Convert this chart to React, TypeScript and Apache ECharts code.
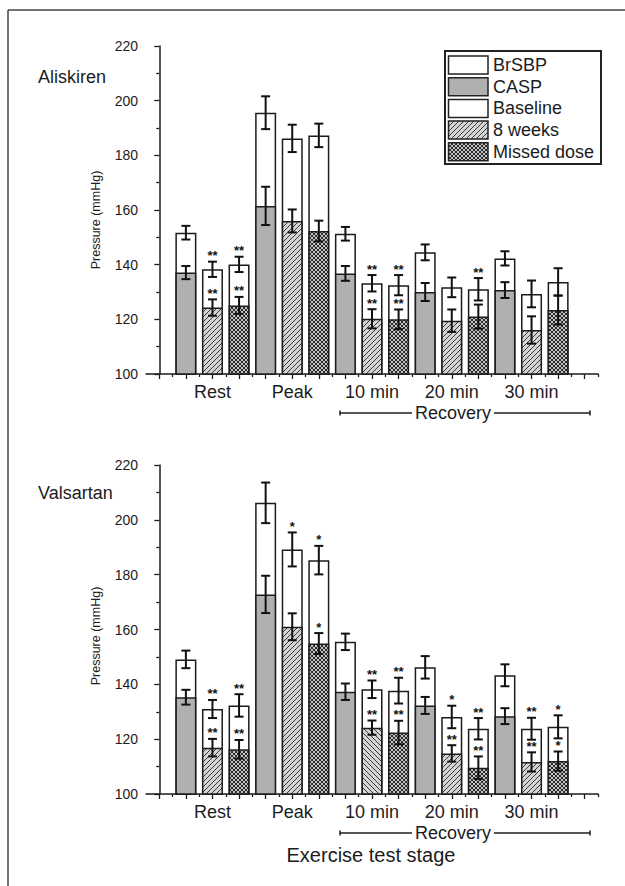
import React, { useEffect, useRef } from "react";
import * as echarts from "echarts";

const stages = ["Rest", "Peak", "10 min", "20 min", "30 min"];
const groups = ["Baseline", "8 weeks", "Missed dose"];
const yTicks = { min: 100, max: 220, step: 20 };

// Aliskiren (values in mmHg, ordered stage by stage: Baseline, 8 weeks, Missed dose)
const aliBrSBP = [151.7, 138.3, 140.1, 195.6, 186.2, 187.3, 151.3, 133.2, 132.5, 144.5, 131.7, 131.0, 142.3, 129.3, 133.7];
const aliBrSBPErr = [2.5, 2.8, 2.8, 6.0, 5.0, 4.3, 2.5, 3.0, 3.7, 2.9, 3.6, 4.1, 2.6, 4.9, 5.0];
const aliCASP = [137.1, 124.3, 125.1, 161.5, 156.0, 152.3, 136.8, 120.2, 120.0, 130.0, 119.5, 121.0, 130.7, 116.1, 123.4];
const aliCASPErr = [2.4, 3.0, 3.1, 7.0, 4.2, 3.8, 2.7, 3.5, 3.6, 3.3, 4.1, 4.4, 2.9, 5.0, 5.3];
const aliBrSBPSig = ["", "**", "**", "", "", "", "", "**", "**", "", "", "**", "", "", ""];
const aliCASPSig = ["", "**", "**", "", "", "", "", "**", "**", "", "", "", "", "", ""];

// Valsartan
const valBrSBP = [149.1, 131.0, 132.3, 206.2, 189.2, 185.3, 155.5, 138.2, 137.7, 146.2, 128.1, 123.8, 143.3, 123.8, 124.5];
const valBrSBPErr = [3.2, 3.3, 4.1, 7.4, 6.2, 5.2, 3.0, 3.2, 4.7, 4.1, 4.1, 3.9, 4.0, 4.0, 4.2];
const valCASP = [135.3, 116.9, 116.3, 172.8, 161.0, 154.9, 137.3, 124.2, 122.4, 132.3, 114.8, 109.6, 128.4, 111.7, 112.0];
const valCASPErr = [2.7, 3.2, 3.4, 6.8, 4.9, 3.8, 3.0, 2.6, 4.3, 3.1, 3.0, 4.1, 2.9, 3.5, 3.5];
const valBrSBPSig = ["", "**", "**", "", "*", "*", "", "**", "**", "", "*", "**", "", "**", "*"];
const valCASPSig = ["", "**", "**", "", "", "*", "", "**", "**", "", "**", "**", "", "**", "*"];

const FONT = "'Liberation Sans', Arial, Helvetica, sans-serif";
const INK = "#1c1c1c";
const GRAY = "#b0b0b0";

function makePattern(kind: "fwd" | "back" | "cross") {
  const s = kind === "cross" ? 4 : 5;
  const c = document.createElement("canvas");
  c.width = s;
  c.height = s;
  const g = c.getContext("2d")!;
  g.fillStyle = kind === "cross" ? "#c4c4c4" : "#d4d4d4";
  g.fillRect(0, 0, s, s);
  g.strokeStyle = kind === "cross" ? "#2a2a2a" : "#3a3a3a";
  g.lineWidth = 1;
  const fwd = () => {
    for (let k = -1; k <= 1; k++) {
      g.beginPath();
      g.moveTo(k * s - 1, s + 1);
      g.lineTo(k * s + s + 1, -1);
      g.stroke();
    }
  };
  const back = () => {
    for (let k = -1; k <= 1; k++) {
      g.beginPath();
      g.moveTo(k * s - 1, -1);
      g.lineTo(k * s + s + 1, s + 1);
      g.stroke();
    }
  };
  if (kind === "fwd") fwd();
  else if (kind === "back") back();
  else {
    fwd();
    back();
  }
  return { image: c, repeat: "repeat", imageWidth: s, imageHeight: s } as any;
}

export default function App() {
  const ref = useRef<HTMLDivElement>(null);

  useEffect(() => {
    if (!ref.current) return;
    const chart = echarts.init(ref.current, undefined, { renderer: "svg" });

    const fwd = makePattern("fwd");
    const back = makePattern("back");
    const cross = makePattern("cross");

    const nG = groups.length;
    const positions = aliBrSBP.map((_, k) => k + 1);
    const labelPos = stages.map((_, i) => i * nG + 2);
    const majorTicks: number[] = [];
    for (let v = 0; v <= 16; v++) majorTicks.push(v);
    const minorTicks = majorTicks.map((v) => v + 0.5);

    const grids = [
      { left: 146, top: 46, width: 452, height: 328 },
      { left: 146, top: 465, width: 452, height: 329 },
    ];

    const xAxes: any[] = [];
    const yAxes: any[] = [];
    grids.forEach((_, gi) => {
      xAxes.push({
        type: "value",
        gridIndex: gi,
        min: -0.5,
        max: 16.5,
        axisLine: { show: true, onZero: false, lineStyle: { color: INK, width: 1.5 } },
        axisTick: { show: true, length: 5, customValues: majorTicks, lineStyle: { color: INK, width: 1.3 } },
        axisLabel: {
          show: true,
          customValues: labelPos,
          formatter: (v: number) => stages[labelPos.indexOf(Math.round(v))] ?? "",
          fontSize: 18,
          lineHeight: 18,
          fontFamily: FONT,
          color: INK,
          margin: 9,
        },
        splitLine: { show: false },
      });
      xAxes.push({
        type: "value",
        gridIndex: gi,
        min: -0.5,
        max: 16.5,
        position: "bottom",
        axisLine: { show: false },
        axisTick: { show: true, length: 3, customValues: minorTicks, lineStyle: { color: INK, width: 1.3 } },
        axisLabel: { show: false },
        splitLine: { show: false },
      });
      yAxes.push({
        type: "value",
        gridIndex: gi,
        min: yTicks.min,
        max: yTicks.max,
        interval: yTicks.step,
        axisLine: { show: true, lineStyle: { color: INK, width: 1.5 } },
        axisTick: { show: true, length: 5, lineStyle: { color: INK, width: 1.3 } },
        minorTick: { show: true, splitNumber: 2, length: 3, lineStyle: { color: INK, width: 1.3 } },
        axisLabel: { fontSize: 14, fontFamily: FONT, color: INK, margin: 8 },
        splitLine: { show: false },
        minorSplitLine: { show: false },
      });
    });

    const panels = [
      { br: aliBrSBP, brE: aliBrSBPErr, ca: aliCASP, caE: aliCASPErr, brS: aliBrSBPSig, caS: aliCASPSig, backIdx: [] as number[] },
      { br: valBrSBP, brE: valBrSBPErr, ca: valCASP, caE: valCASPErr, brS: valBrSBPSig, caS: valCASPSig, backIdx: [7] },
    ];

    const series: any[] = [];
    panels.forEach((p, gi) => {
      const xi = gi * 2;
      series.push({
        type: "bar",
        name: "BrSBP",
        xAxisIndex: xi,
        yAxisIndex: gi,
        barWidth: 21,
        z: 2,
        data: positions.map((x, k) => [x, p.br[k]]),
        itemStyle: { color: "#ffffff", borderColor: INK, borderWidth: 1.5 },
      });
      series.push({
        type: "bar",
        name: "CASP",
        xAxisIndex: xi,
        yAxisIndex: gi,
        barWidth: 21,
        barGap: "-100%",
        z: 3,
        data: positions.map((x, k) => {
          const j = k % nG;
          const fill = j === 0 ? GRAY : j === 1 ? (p.backIdx.includes(k) ? back : fwd) : cross;
          return { value: [x, p.ca[k]], itemStyle: { color: fill } };
        }),
        itemStyle: { borderColor: INK, borderWidth: 1.5 },
      });
      const errData = [
        ...positions.map((x, k) => [x, p.br[k], p.brE[k]]),
        ...positions.map((x, k) => [x, p.ca[k], p.caE[k]]),
      ];
      series.push({
        type: "custom",
        xAxisIndex: xi,
        yAxisIndex: gi,
        z: 5,
        encode: { x: 0, y: 1 },
        data: errData,
        renderItem: (params: any, api: any) => {
          const x = api.value(0);
          const v = api.value(1);
          const e = api.value(2);
          const hi = api.coord([x, v + e]);
          const lo = api.coord([x, v - e]);
          const hw = 4.5;
          const st = { stroke: "#111", lineWidth: 2 };
          return {
            type: "group",
            children: [
              { type: "line", shape: { x1: hi[0], y1: hi[1], x2: lo[0], y2: lo[1] }, style: st },
              { type: "line", shape: { x1: hi[0] - hw, y1: hi[1], x2: hi[0] + hw, y2: hi[1] }, style: st },
              { type: "line", shape: { x1: lo[0] - hw, y1: lo[1], x2: lo[0] + hw, y2: lo[1] }, style: st },
            ],
          };
        },
      });
      const sigItems: { x: number; top: number; text: string }[] = [];
      positions.forEach((x, k) => {
        if (p.brS[k]) sigItems.push({ x, top: p.br[k] + p.brE[k], text: p.brS[k] });
        if (p.caS[k]) sigItems.push({ x, top: p.ca[k] + p.caE[k], text: p.caS[k] });
      });
      series.push({
        type: "custom",
        xAxisIndex: xi,
        yAxisIndex: gi,
        z: 6,
        encode: { x: 0, y: 1 },
        data: sigItems.map((s) => [s.x, s.top]),
        renderItem: (params: any, api: any) => {
          const pt = api.coord([api.value(0), api.value(1)]);
          return {
            type: "text",
            x: pt[0],
            y: pt[1] - 6,
            style: {
              text: sigItems[params.dataIndex].text,
              fill: "#111",
              font: `bold 13px ${FONT}`,
              textAlign: "center",
              textVerticalAlign: "middle",
            },
          };
        },
      });
    });

    const legendRows = [
      { name: "BrSBP", fill: "#ffffff" },
      { name: "CASP", fill: GRAY },
      { name: "Baseline", fill: "#ffffff" },
      { name: "8 weeks", fill: fwd },
      { name: "Missed dose", fill: cross },
    ];
    const legendEls: any[] = [
      { type: "rect", shape: { x: 445, y: 51, width: 156, height: 113 }, style: { fill: "#fff", stroke: "#222", lineWidth: 2 } },
    ];
    legendRows.forEach((r, i) => {
      const cy = 65 + i * 21.7;
      legendEls.push({
        type: "rect",
        shape: { x: 448.5, y: cy - 9, width: 39.5, height: 18 },
        style: { fill: r.fill, stroke: "#222", lineWidth: 1.5 },
      });
      legendEls.push({
        type: "text",
        x: 493,
        y: cy,
        style: { text: r.name, fill: INK, font: `18px ${FONT}`, textAlign: "left", textVerticalAlign: "middle" },
      });
    });

    const bracket = (y: number) => {
      const st = { stroke: INK, lineWidth: 1.5 };
      return [
        { type: "line", shape: { x1: 340, y1: y, x2: 412, y2: y }, style: st },
        { type: "line", shape: { x1: 340, y1: y - 2.5, x2: 340, y2: y + 2.5 }, style: st },
        { type: "line", shape: { x1: 494, y1: y, x2: 590, y2: y }, style: st },
        { type: "line", shape: { x1: 590, y1: y - 2.5, x2: 590, y2: y + 2.5 }, style: st },
        {
          type: "text",
          x: 453,
          y: y,
          style: { text: "Recovery", fill: INK, font: `18px ${FONT}`, lineHeight: 18, textAlign: "center", textVerticalAlign: "middle" },
        },
      ];
    };

    const yTitle = (cy: number) => ({
      type: "text",
      x: 96,
      y: cy,
      rotation: Math.PI / 2,
      style: { text: "Pressure (mmHg)", fill: INK, font: `12.5px ${FONT}`, textAlign: "center", textVerticalAlign: "middle" },
    });

    const graphic: any[] = [
      { type: "line", shape: { x1: 8, y1: 10, x2: 625, y2: 10 }, style: { stroke: "#444", lineWidth: 1.5 } },
      { type: "line", shape: { x1: 8, y1: 10, x2: 8, y2: 886 }, style: { stroke: "#444", lineWidth: 1.5 } },
      { type: "text", x: 38, y: 77, style: { text: "Aliskiren", fill: INK, font: `18px ${FONT}`, textVerticalAlign: "middle" } },
      { type: "text", x: 38, y: 493, style: { text: "Valsartan", fill: INK, font: `18px ${FONT}`, textVerticalAlign: "middle" } },
      yTitle(220),
      yTitle(636),
      ...bracket(413),
      ...bracket(833),
      {
        type: "text",
        x: 371,
        y: 855,
        style: { text: "Exercise test stage", fill: INK, font: `20px ${FONT}`, textAlign: "center", textVerticalAlign: "middle" },
      },
      ...legendEls,
    ];

    chart.setOption({
      animation: false,
      backgroundColor: "#ffffff",
      grid: grids,
      xAxis: xAxes,
      yAxis: yAxes,
      series,
      graphic,
    });

    return () => chart.dispose();
  }, []);

  return (
    <div
      ref={ref}
      style={{ position: "absolute", left: 0, top: 0, width: 625, height: 886, background: "#fff" }}
    />
  );
}
